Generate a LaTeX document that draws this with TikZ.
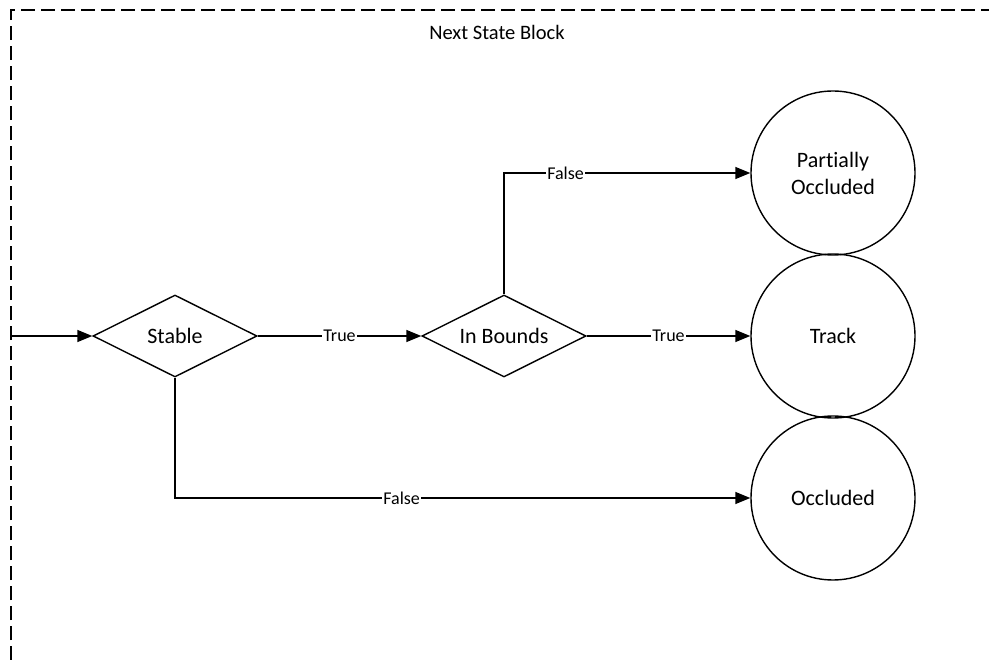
\documentclass[tikz,border=0pt]{standalone}
\usepackage{fontspec}
\setmainfont{Carlito}[Ligatures={NoCommon}]
\usetikzlibrary{shapes.geometric,arrows.meta}
\begin{document}
\begin{tikzpicture}[x=1pt,y=-1pt,
  lw/.style={line width=1.4pt},
  arr/.style={lw,-{Triangle[length=15pt,width=12pt]}},
  decision/.style={diamond,draw,lw,aspect=2,inner sep=0pt,minimum width=164pt,minimum height=82pt,font=\fontsize{22}{26}\selectfont},
  statenode/.style={circle,draw,lw,inner sep=0pt,minimum size=164pt,align=center,font=\fontsize{22}{27}\selectfont},
  lbl/.style={fill=white,inner sep=1pt,font=\fontsize{18}{20}\selectfont}]
\useasboundingbox (0,0) rectangle (989,660);
\draw[line width=1.5pt,dash pattern=on 14pt off 6pt] (11,660) -- (11,10) -- (989,10);
\node[font=\fontsize{20.5}{24}\selectfont] (title) at (497,32) {Next State Block};
\node[decision] (stable) at (175,336) {Stable};
\node[decision] (inb) at (504,336) {In Bounds};
\node[statenode] (po) at (833,173) {Partially\\Occluded};
\node[statenode] (track) at (833,336) {Track};
\node[statenode] (occ) at (833,498) {Occluded};
\coordinate (in) at (11,336);
\draw[arr] (in) -- (stable.west);
\draw[arr] (stable.east) -- node[lbl]{True} (inb.west);
\draw[arr] (inb.east) -- node[lbl]{True} (track.west);
\draw[arr] (inb.north) |- node[lbl,pos=0.625]{False} (po.west);
\draw[arr] (stable.south) |- node[lbl,pos=0.697]{False} (occ.west);
\end{tikzpicture}
\end{document}
